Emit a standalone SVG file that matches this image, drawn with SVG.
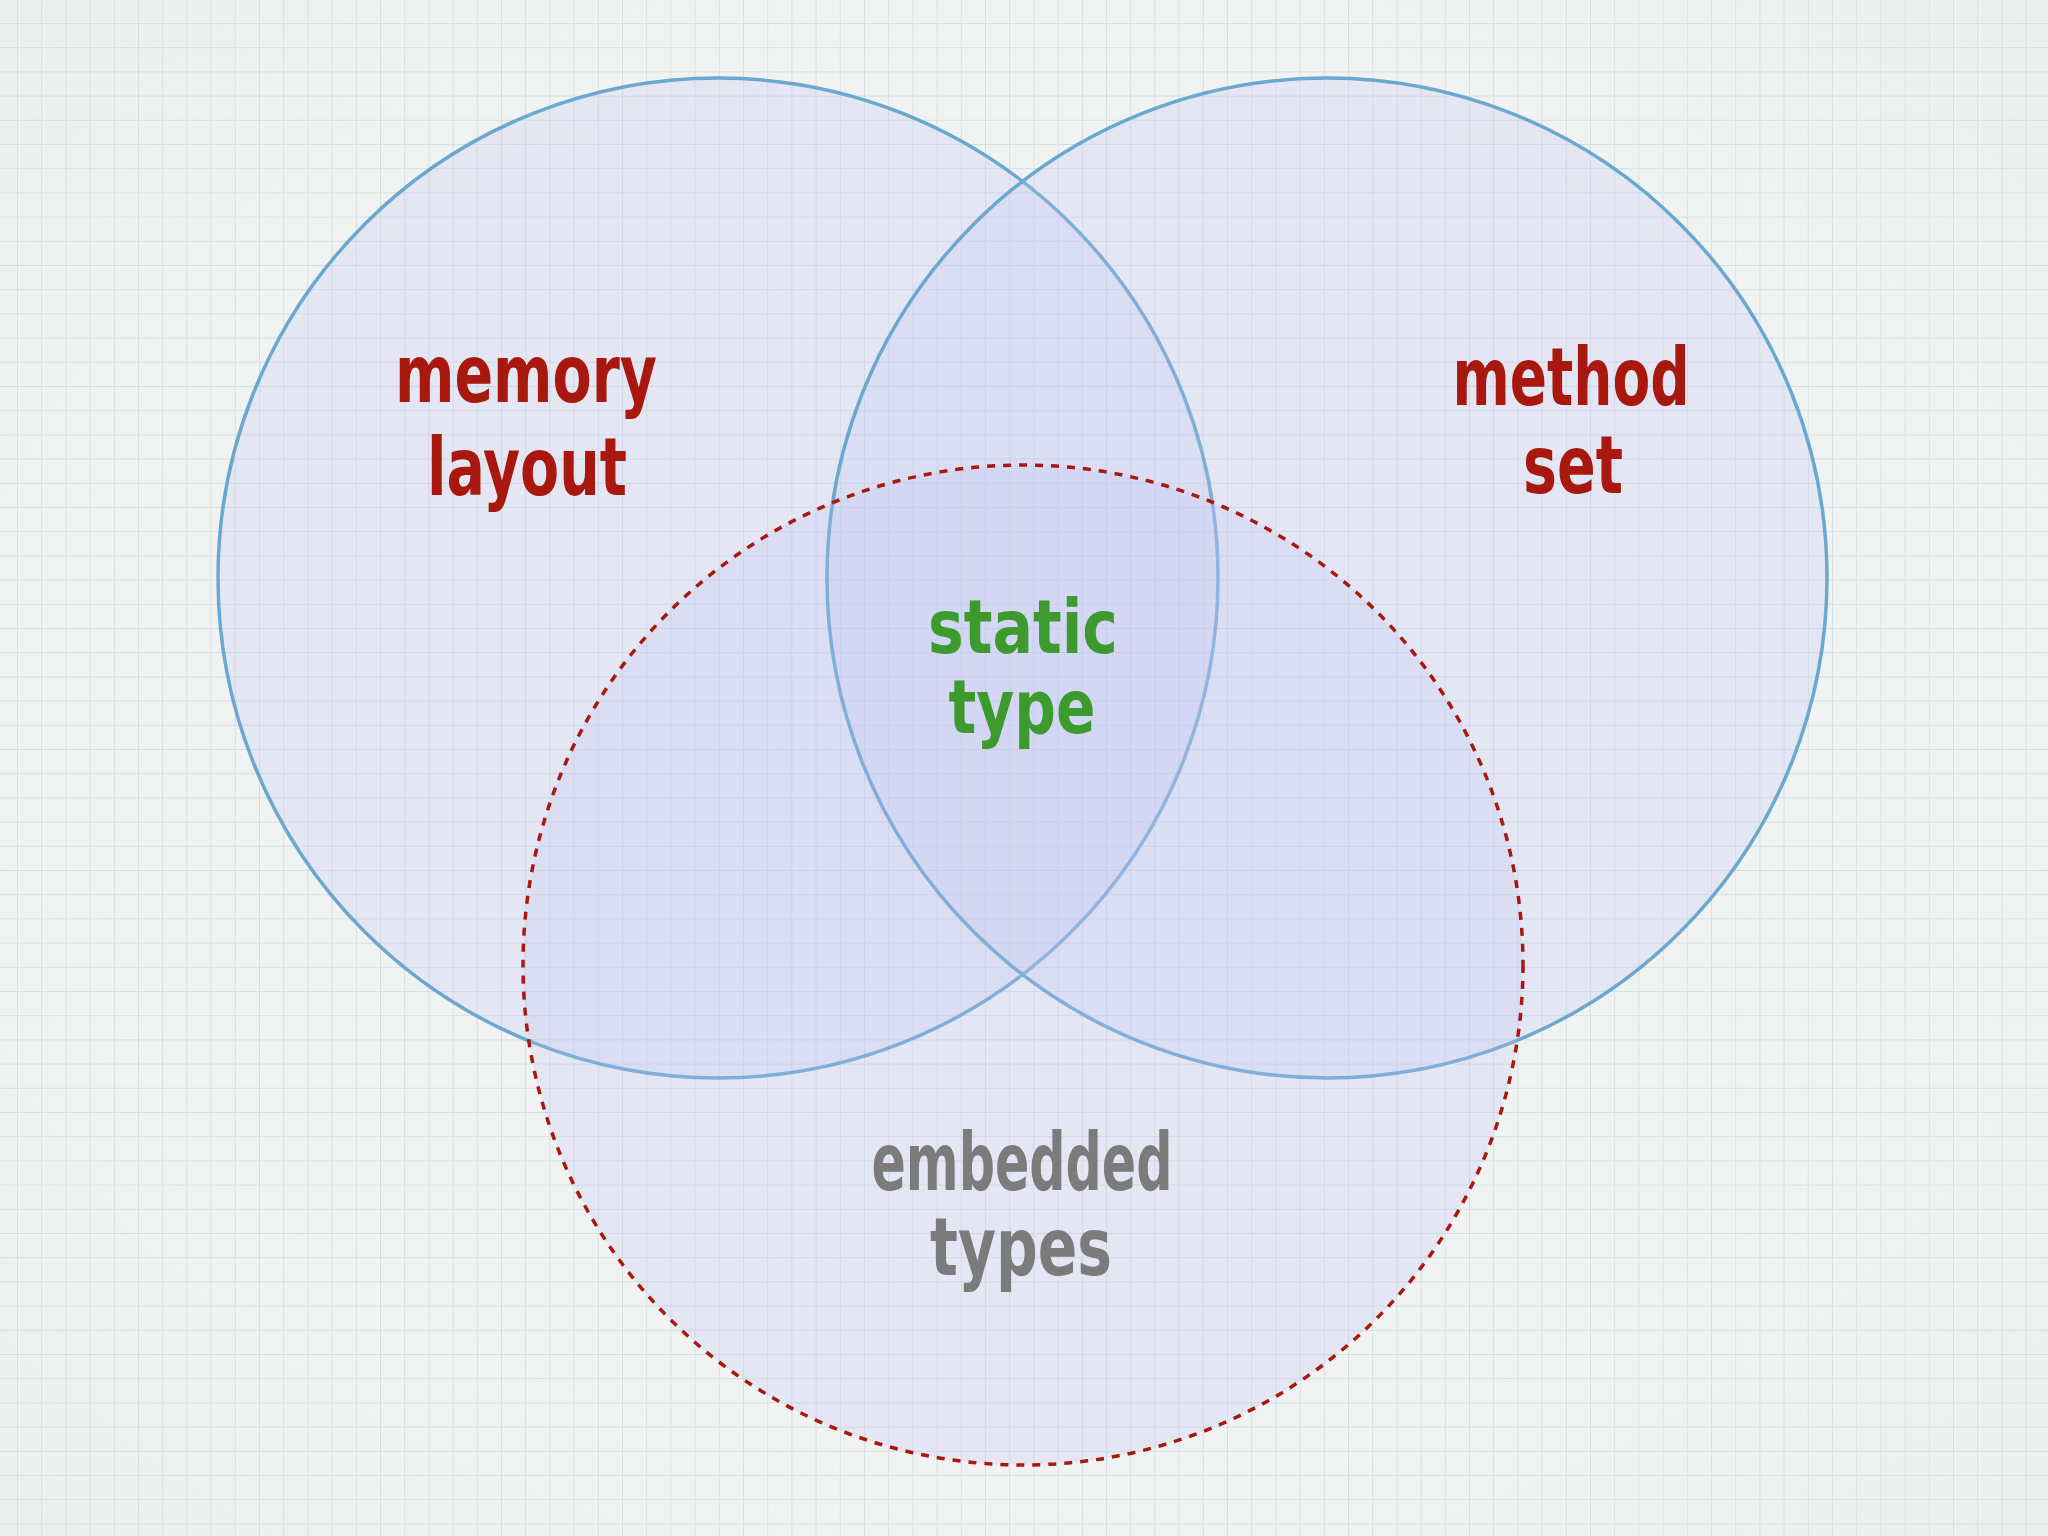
<svg xmlns="http://www.w3.org/2000/svg" width="2048" height="1536" viewBox="0 0 2048 1536">
<defs>
<pattern id="grid" x="17" y="23" width="24.2" height="24.2" patternUnits="userSpaceOnUse">
<path d="M0 0 H24.2 M0 0 V24.2" fill="none" stroke="#c3d2d6" stroke-width="1.8" stroke-opacity="0.8"/>
</pattern>
<radialGradient id="vig" cx="50%" cy="50%" r="75%">
<stop offset="0.6" stop-color="#ffffff" stop-opacity="0.15"/>
<stop offset="1" stop-color="#dfe3e3" stop-opacity="0.3"/>
</radialGradient>
</defs>
<style>
.set{fill:#bfc3f4;fill-opacity:0.25}
.solid{stroke:#6aa8cf;stroke-width:3.5}
.dashed{stroke:#a8180e;stroke-width:3.5;stroke-dasharray:8 8}
.lbl{font-family:"DejaVu Sans Condensed","DejaVu Sans",sans-serif;font-weight:bold;font-size:80px;text-anchor:middle}
.red{fill:#a8180e}
.green{fill:#3d9a2f;font-size:74px}
.grey{fill:#7b7b7b}
</style>
<rect width="2048" height="1536" fill="#eff1f1"/>
<rect width="2048" height="1536" fill="url(#grid)"/>
<rect width="2048" height="1536" fill="url(#vig)"/>
<g id="memory-layout">
<circle class="set solid" cx="718" cy="578" r="500"/>
<text class="lbl red" x="526" y="402" textLength="262" lengthAdjust="spacingAndGlyphs">memory</text>
<text class="lbl red" x="527" y="495" textLength="200" lengthAdjust="spacingAndGlyphs">layout</text>
</g>
<g id="method-set">
<circle class="set solid" cx="1327" cy="578" r="500"/>
<text class="lbl red" x="1571" y="405" textLength="237" lengthAdjust="spacingAndGlyphs">method</text>
<text class="lbl red" x="1573" y="493" textLength="100" lengthAdjust="spacingAndGlyphs">set</text>
</g>
<g id="embedded-types">
<circle class="set dashed" cx="1023" cy="965" r="500"/>
<text class="lbl grey" x="1022" y="1190" textLength="301" lengthAdjust="spacingAndGlyphs">embedded</text>
<text class="lbl grey" x="1021" y="1275" textLength="182" lengthAdjust="spacingAndGlyphs">types</text>
</g>
<g id="static-type">
<text class="lbl green" x="1023" y="653" textLength="190" lengthAdjust="spacingAndGlyphs">static</text>
<text class="lbl green" x="1022" y="733" textLength="147" lengthAdjust="spacingAndGlyphs">type</text>
</g>
<g id="connectors"/>
</svg>
